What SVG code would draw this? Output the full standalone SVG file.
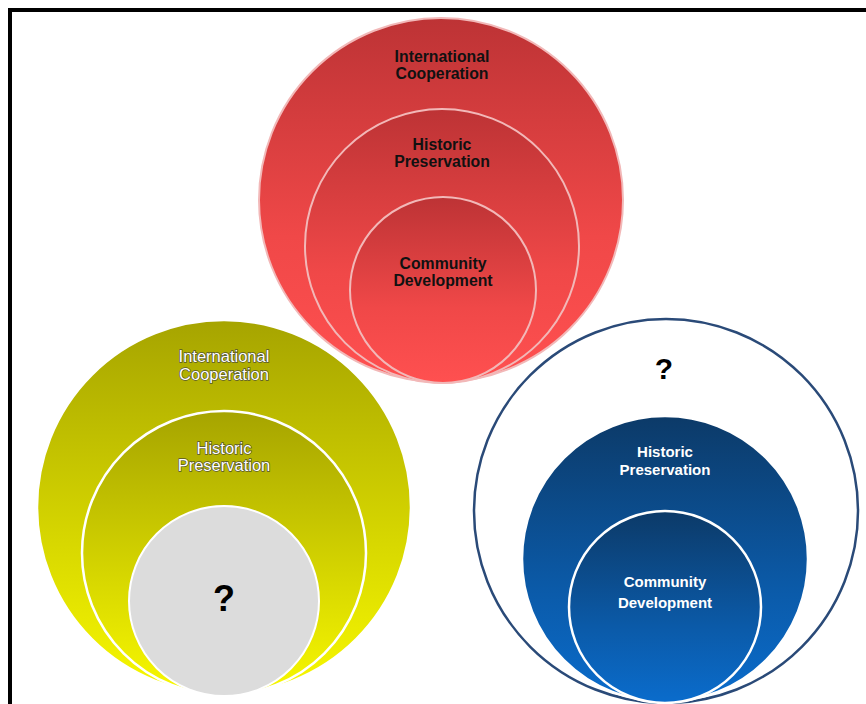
<svg xmlns="http://www.w3.org/2000/svg" width="866" height="704" viewBox="0 0 866 704">
<defs>
<linearGradient id="gRed" x1="0" y1="0" x2="0" y2="1">
<stop offset="0" stop-color="#bd3335"/><stop offset="0.6" stop-color="#f04848"/><stop offset="1" stop-color="#ff5050"/>
</linearGradient>
<linearGradient id="gYel" x1="0" y1="0" x2="0" y2="1">
<stop offset="0" stop-color="#a6a400"/><stop offset="0.6" stop-color="#d8d800"/><stop offset="1" stop-color="#f8f800"/>
</linearGradient>
<linearGradient id="gBlue" x1="0" y1="0" x2="0" y2="1">
<stop offset="0" stop-color="#0c3a68"/><stop offset="0.6" stop-color="#0b5aa8"/><stop offset="1" stop-color="#0a6ccc"/>
</linearGradient>
</defs>
<style>
.red{fill:url(#gRed);stroke:#f2b8b8;stroke-width:2}
.yel{fill:url(#gYel);stroke:#ffffff;stroke-width:2.5}
.blu{fill:url(#gBlue);stroke:#ffffff;stroke-width:2.5}
.tb{font-family:"Liberation Sans",Arial,sans-serif;font-weight:bold;font-size:15.8px;fill:#111;text-anchor:middle}
.tw{font-family:"Liberation Sans",Arial,sans-serif;font-size:16.5px;fill:#fff;stroke:#55552f;stroke-width:1.4;paint-order:stroke;text-anchor:middle}
.tbw{font-family:"Liberation Sans",Arial,sans-serif;font-weight:bold;font-size:15px;fill:#fff;text-anchor:middle}
.q{font-family:"Liberation Sans",Arial,sans-serif;font-weight:bold;fill:#000;text-anchor:middle}
</style>
<rect x="0" y="0" width="866" height="704" fill="#ffffff"/>
<path d="M10 704 V10 H866" fill="none" stroke="#000" stroke-width="4"/>
<g id="red-set">
<g id="red-outer"><circle class="red" cx="441" cy="200" r="182"/>
<text class="tb" x="442" y="62">International</text><text class="tb" x="442" y="79">Cooperation</text></g>
<g id="red-middle"><circle class="red" cx="442" cy="246" r="137"/>
<text class="tb" x="442" y="150">Historic</text><text class="tb" x="442" y="167">Preservation</text></g>
<g id="red-inner"><circle class="red" cx="443" cy="290" r="93"/>
<text class="tb" x="443" y="269">Community</text><text class="tb" x="443" y="286">Development</text></g>
</g>
<g id="yellow-set">
<g id="yellow-outer"><circle class="yel" cx="224" cy="507" r="187"/>
<text class="tw" x="224" y="362">International</text><text class="tw" x="224" y="380">Cooperation</text></g>
<g id="yellow-middle"><circle class="yel" cx="224" cy="553" r="142"/>
<text class="tw" x="224" y="454">Historic</text><text class="tw" x="224" y="471">Preservation</text></g>
<g id="yellow-inner"><circle cx="224" cy="601" r="95" fill="#dcdcdc" stroke="#ffffff" stroke-width="2"/>
<text class="q" x="224" y="611" font-size="36">?</text></g>
</g>
<g id="blue-set">
<g id="blue-outer"><circle cx="666" cy="511" r="192" fill="#ffffff" stroke="#2a4a78" stroke-width="2.5"/>
<text class="q" x="664" y="379" font-size="30">?</text></g>
<g id="blue-middle"><circle class="blu" cx="665" cy="559" r="143"/>
<text class="tbw" x="665" y="457">Historic</text><text class="tbw" x="665" y="475">Preservation</text></g>
<g id="blue-inner"><circle class="blu" cx="665" cy="607" r="96"/>
<text class="tbw" x="665" y="587" font-size="16">Community</text><text class="tbw" x="665" y="608" font-size="16">Development</text></g>
</g>
</svg>
